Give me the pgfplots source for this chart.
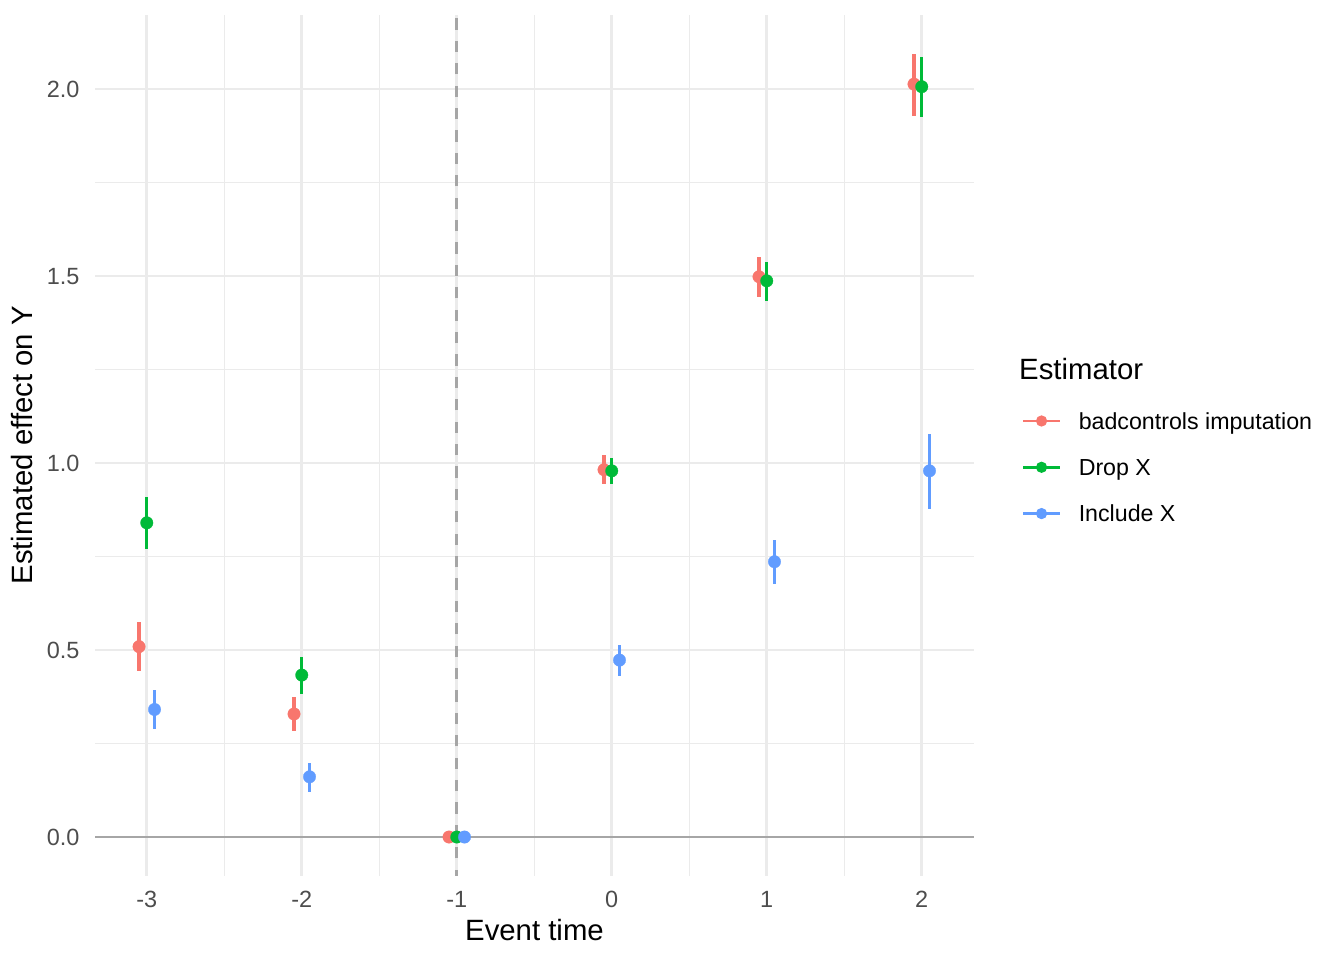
\documentclass[border=0pt]{standalone}
\usepackage{fontspec}
\setmainfont{Liberation Sans}
\usepackage{pgfplots}
\usepackage{pgfplotstable}
\pgfplotsset{compat=1.18}
\definecolor{cR}{HTML}{F8766D}
\definecolor{cG}{HTML}{00BA38}
\definecolor{cB}{HTML}{619CFF}
\definecolor{gridc}{HTML}{EBEBEB}
\definecolor{refc}{HTML}{A6A6A6}
\definecolor{tickc}{HTML}{4D4D4D}

\pgfplotstableread{
x y ep em
-3.05 0.509 0.066 0.066
-2.05 0.329 0.045 0.045
-1.05 0.000 0.000 0.000
-0.05 0.982 0.039 0.039
0.95 1.498 0.054 0.055
1.95 2.013 0.081 0.084
}\redtab
\pgfplotstableread{
x y ep em
-3 0.840 0.068 0.070
-2 0.433 0.047 0.050
-1 0.000 0.000 0.000
0 0.979 0.035 0.034
1 1.487 0.050 0.053
2 2.006 0.080 0.080
}\greentab
\pgfplotstableread{
x y ep em
-2.95 0.341 0.053 0.053
-1.95 0.161 0.038 0.040
-0.95 0.000 0.000 0.000
0.05 0.473 0.040 0.043
1.05 0.736 0.058 0.059
2.05 0.979 0.098 0.101
}\bluetab

\begin{document}
\begin{tikzpicture}
\path[use as bounding box] (0,0) rectangle (504bp,360bp);
\begin{axis}[
  at={(35.63bp,31.6bp)}, anchor=south west,
  scale only axis, width=329.6bp, height=322.8bp,
  xmin=-3.334, xmax=2.337, ymin=-0.1035, ymax=2.198,
  xtick={-3,-2,-1,0,1,2}, xticklabels={-3,-2,-1,0,1,2},
  ytick={0,0.5,1,1.5,2}, yticklabels={0.0,0.5,1.0,1.5,2.0},
  minor xtick={-2.5,-1.5,-0.5,0.5,1.5},
  minor ytick={0.25,0.75,1.25,1.75},
  grid=both,
  major grid style={line width=1.1bp, draw=gridc},
  minor grid style={line width=0.55bp, draw=gridc},
  axis line style={draw=none},
  major tick length=0pt, minor tick length=0pt,
  ticklabel style={font=\fontsize{8.8bp}{10bp}\selectfont, text=tickc, inner sep=0pt, text height=6.3bp, text depth=0pt},
  xticklabel shift=5.4bp, yticklabel shift=5.6bp,
  xlabel={Event time}, ylabel={Estimated effect on Y},
  label style={font=\fontsize{11bp}{13bp}\selectfont, inner sep=0pt, text height=7.88bp, text depth=0pt},
  xlabel style={at={(axis description cs:0.5,-0.0631)}, anchor=center},
  ylabel style={at={(axis description cs:-0.0834,0.5)}, anchor=center},
  legend cell align=left,
  legend style={draw=none, fill=none, at={(1.0546,0.4745)}, anchor=west,
    inner sep=0pt, outer sep=0pt, row sep=11.06bp, column sep=6.6bp,
    font=\fontsize{8.7bp}{10bp}\selectfont,
    nodes={inner sep=0pt, text height=6.3bp, text depth=0pt},
    cells={anchor=west}},
]
\draw[refc, line width=1.07bp] (axis cs:-3.334,0) -- (axis cs:2.337,0);
\draw[refc, line width=1.07bp, dash pattern=on 4.2bp off 4.2bp, dash phase=1.9bp] (axis cs:-1,-0.1035) -- (axis cs:-1,2.198);

\addplot[color=cR, only marks, mark=*, mark size=2.35bp, mark options={fill=cR, draw=cR, line width=0.1bp},
  legend image code/.code={\draw[cR, line width=1.1bp] (0bp,0bp) -- (13.6bp,0bp); \fill[cR] (6.8bp,0bp) circle (1.9bp);},
  error bars/.cd, y dir=both, y explicit, error mark=none, error bar style={line width=1.15bp, cR}]
  table[x=x, y=y, y error plus=ep, y error minus=em]{\redtab};
\addlegendentry{badcontrols imputation}
\addplot[color=cG, only marks, mark=*, mark size=2.35bp, mark options={fill=cG, draw=cG, line width=0.1bp},
  legend image code/.code={\draw[cG, line width=1.1bp] (0bp,0bp) -- (13.6bp,0bp); \fill[cG] (6.8bp,0bp) circle (1.9bp);},
  error bars/.cd, y dir=both, y explicit, error mark=none, error bar style={line width=1.15bp, cG}]
  table[x=x, y=y, y error plus=ep, y error minus=em]{\greentab};
\addlegendentry{Drop X}
\addplot[color=cB, only marks, mark=*, mark size=2.35bp, mark options={fill=cB, draw=cB, line width=0.1bp},
  legend image code/.code={\draw[cB, line width=1.1bp] (0bp,0bp) -- (13.6bp,0bp); \fill[cB] (6.8bp,0bp) circle (1.9bp);},
  error bars/.cd, y dir=both, y explicit, error mark=none, error bar style={line width=1.15bp, cB}]
  table[x=x, y=y, y error plus=ep, y error minus=em]{\bluetab};
\addlegendentry{Include X}
\end{axis}
\node[anchor=west, inner sep=0pt, font=\fontsize{11bp}{13bp}\selectfont, text height=7.88bp, text depth=0pt] at (382.0bp,221.44bp) {Estimator};
\end{tikzpicture}
\end{document}
